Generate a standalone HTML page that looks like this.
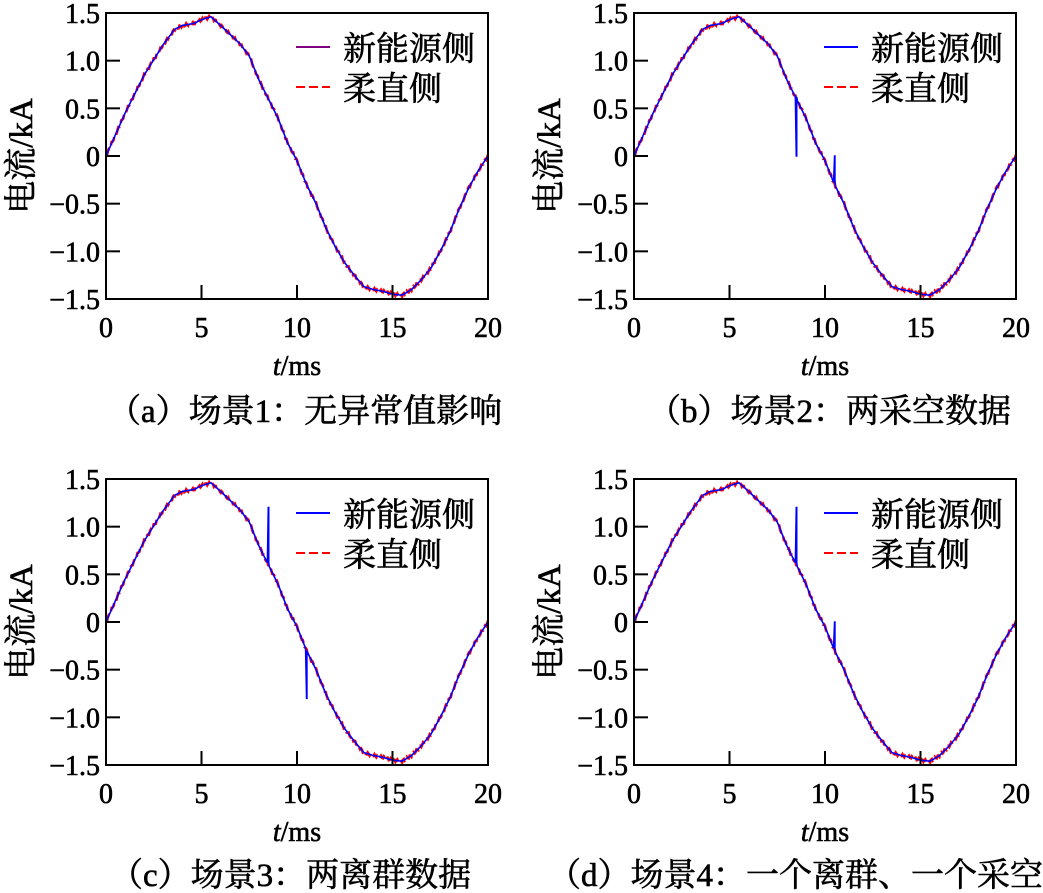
<!DOCTYPE html>
<html><head><meta charset="utf-8">
<style>
html,body{margin:0;padding:0;background:#fff;}
svg{display:block;}
text{font-family:"Liberation Serif","Noto Serif CJK SC","Noto Sans CJK SC",serif;fill:#000;stroke:#000;stroke-width:0.6;}
.t{font-size:28px;}
.c{font-size:33px;}
.cap{font-size:33px;}
</style></head><body>
<svg id="s" width="1043" height="893" viewBox="0 0 1043 893" xmlns="http://www.w3.org/2000/svg">
<g id="pa" transform="translate(106,13)">
 <text class="c" x="237" y="47">新能源侧</text><text class="c" x="237" y="87">柔直侧</text>
 <text class="t" x="191" y="362" text-anchor="middle"><tspan font-style="italic">t</tspan>/ms</text>
 <text class="c" x="-74" y="143" transform="rotate(-90 -74 143)" text-anchor="middle">电流/kA</text>
 <text class="cap" x="2" y="409">（a）场景1：无异常值影响</text>
</g>
<g id="pb" transform="translate(634,13)">
 <text class="c" x="237" y="47">新能源侧</text><text class="c" x="237" y="87">柔直侧</text>
 <text class="t" x="191" y="362" text-anchor="middle"><tspan font-style="italic">t</tspan>/ms</text>
 <text class="c" x="-74" y="143" transform="rotate(-90 -74 143)" text-anchor="middle">电流/kA</text>
 <text class="cap" x="14" y="409">（b）场景2：两采空数据</text>
</g>
<g id="pc" transform="translate(106,479)">
 <text class="c" x="237" y="47">新能源侧</text><text class="c" x="237" y="87">柔直侧</text>
 <text class="t" x="191" y="362" text-anchor="middle"><tspan font-style="italic">t</tspan>/ms</text>
 <text class="c" x="-74" y="143" transform="rotate(-90 -74 143)" text-anchor="middle">电流/kA</text>
 <text class="cap" x="4" y="407">（c）场景3：两离群数据</text>
</g>
<g id="pd" transform="translate(634,479)">
 <text class="c" x="237" y="47">新能源侧</text><text class="c" x="237" y="87">柔直侧</text>
 <text class="t" x="191" y="362" text-anchor="middle"><tspan font-style="italic">t</tspan>/ms</text>
 <text class="c" x="-74" y="143" transform="rotate(-90 -74 143)" text-anchor="middle">电流/kA</text>
 <text class="cap" x="-86" y="407">（d）场景4：一个离群、一个采空</text>
</g>
</svg>
<script>
var NS="http://www.w3.org/2000/svg";
var K=[[0,0],[1,0.45],[2,0.85],[3,1.17],[3.6,1.33],[4,1.37],[4.6,1.39],[5,1.43],[5.5,1.46],[6,1.37],[7,1.18],[7.5,1.05],[8,0.8],[8.5,0.6],[9,0.4],[9.5,0.14],[10,-0.05],[10.5,-0.3],[11,-0.5],[11.5,-0.75],[12,-0.95],[12.5,-1.12],[13,-1.25],[13.5,-1.37],[14,-1.4],[14.5,-1.42],[15,-1.45],[15.5,-1.46],[16,-1.4],[16.5,-1.3],[17,-1.18],[17.5,-1.0],[18,-0.8],[18.5,-0.55],[19,-0.33],[19.5,-0.15],[20,0]];
function f(t){for(var i=1;i<K.length;i++){if(t<=K[i][0]){var a=K[i-1],b=K[i];return a[1]+(b[1]-a[1])*(t-a[0])/(b[0]-a[0]);}}return 0;}
var W=382,H=286;
function X(t){return t/20*W;}function Y(v){return H/2-v*H/3;}
function el(g,n,at){var e=document.createElementNS(NS,n);for(var k in at)e.setAttribute(k,at[k]);g.appendChild(e);return e;}
var spikes={pa:[],pb:[[8.5,0.0,0.62],[10.5,0.0,-0.25]],pc:[[8.5,1.2,0.62],[10.5,-0.8,-0.3]],pd:[[8.5,1.2,0.62],[10.5,0.0,-0.27]]};
["pa","pb","pc","pd"].forEach(function(id){
 var g=document.getElementById(id);
 var d="";for(var t=0;t<=20.001;t+=0.05){d+=(t==0?"M":"L")+X(t).toFixed(1)+","+(Y(f(t))+Math.sin(t*37)*1.4).toFixed(1);}
 el(g,"path",{d:d,fill:"none",stroke:"#ff0000","stroke-width":2.6,"stroke-dasharray":"9,4"});
 var sp=spikes[id];d="";var t=0;
 while(t<=20.001){var y=Y(f(t));
  var s=null;sp.forEach(function(q){if(Math.abs(t-q[0])<0.026)s=q;});
  if(s){d+="L"+X(t).toFixed(1)+","+Y(s[1]).toFixed(1)+"L"+X(t+0.02).toFixed(1)+","+Y(s[1]).toFixed(1)+"L"+X(t+0.02).toFixed(1)+","+Y(s[2]).toFixed(1);}
  else d+=(t==0?"M":"L")+X(t).toFixed(1)+","+y.toFixed(1);
  t+=0.05;}
 el(g,"path",{d:d,fill:"none",stroke:"#0000ff","stroke-width":1.6});
 el(g,"rect",{x:0,y:0,width:W,height:H,fill:"none",stroke:"#000","stroke-width":2});
 var yl=["1.5","1.0","0.5","0","−0.5","−1.0","−1.5"];
 for(var i=0;i<7;i++){var yy=i*H/6;
  if(i>0&&i<6)el(g,"line",{x1:0,y1:yy,x2:14,y2:yy,stroke:"#000","stroke-width":2});
  var tx=el(g,"text",{x:-6,y:yy+10,"text-anchor":"end","class":"t"});tx.textContent=yl[i];}
 for(var j=0;j<5;j++){var xx=j*W/4;
  if(j>0&&j<4)el(g,"line",{x1:xx,y1:H,x2:xx,y2:H-14,stroke:"#000","stroke-width":2});
  var tx2=el(g,"text",{x:xx,y:H+38,"text-anchor":"middle","class":"t"});tx2.textContent=String(j*5);}
 el(g,"line",{x1:190,y1:34,x2:224,y2:34,stroke:id=="pa"?"#800080":"#0000ff","stroke-width":2});
 el(g,"line",{x1:190,y1:74,x2:224,y2:74,stroke:"#ff0000","stroke-width":2,"stroke-dasharray":"9,4"});
});
</script>
</body></html>
